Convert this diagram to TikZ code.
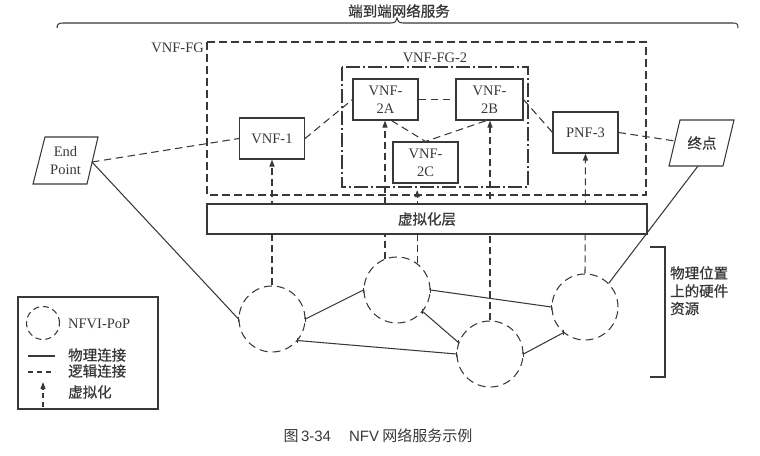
\documentclass[tikz,border=0pt]{standalone}
\usepackage{fontspec}
\setmainfont{Liberation Serif}
\newfontfamily\cjk[FakeBold=0.8]{Noto Sans CJK SC}
\newfontfamily\cjkcap{Noto Sans CJK SC}
\newfontfamily\capsans{Liberation Sans}
\usetikzlibrary{arrows.meta,calc}
\definecolor{ink}{gray}{0.22}
\begin{document}
\begin{tikzpicture}[x=1pt,y=-1pt,
  every node/.style={text=ink, font=\fontsize{14.5}{18}\selectfont, inner sep=0pt},
  line/.style={draw=ink, line width=1.05pt},
  box/.style={line, rectangle, minimum width=65pt, minimum height=41pt, align=center},
  logic/.style={line, dash pattern=on 7.5pt off 4.5pt},
  phys/.style={line},
  pop/.style={line, circle, minimum size=66pt, dash pattern=on 8pt off 5pt},
  virt/.style={line, dash pattern=on 7pt off 4pt, -{Triangle[length=7pt,width=5pt]}},
  fgdash/.style={line, dash pattern=on 8pt off 4pt},
  fgdashdot/.style={line, dash pattern=on 14pt off 3pt on 2pt off 3pt},
]
\useasboundingbox (0,0) rectangle (760,455);

% title and brace
\node (title) at (399,11) {\cjk 端到端网络服务};
\draw[line] (57,28) .. controls (57,24) and (59,23) .. (63,23) -- (391,23)
  .. controls (395,23) and (397,21) .. (397,18)
  .. controls (397,21) and (399,23) .. (403,23) -- (733,23)
  .. controls (737,23) and (738,24) .. (738,28);

% forwarding graph containers
\draw[fgdash] (207,42) rectangle (646,195);
\node[anchor=east] (fglab) at (204,48) {VNF-FG};
\draw[fgdashdot] (342,67) rectangle (528,187);
\node (fg2lab) at (435,58) {VNF-FG-2};

% functions
\node[box] (vnf1) at (272,138.5) {VNF-1};
\node[box] (v2a) at (385.5,99.5) {VNF-\\2A};
\node[box, minimum width=67pt] (v2b) at (489.5,99.5) {VNF-\\2B};
\node[box] (v2c) at (425.5,162.5) {VNF-\\2C};
\node[box] (pnf3) at (585.5,132.5) {PNF-3};

% end points
\draw[line] (45,137) -- (98,137) -- (87,184) -- (33,184) -- cycle;
\node[align=center] (ep) at (65.5,161) {End\\Point};
\coordinate (epR) at (92,162);
\draw[line] (680,120) -- (734,120) -- (723,166) -- (669,166) -- cycle;
\node (zd) at (702,143) {\cjk 终点};
\coordinate (zdL) at (675,141);
\coordinate (zdB) at (698,166);

% NFVI-PoPs
\node[pop] (c1) at (272,319) {};
\node[pop] (c2) at (397,290) {};
\node[pop] (c3) at (490,354) {};
\node[pop] (c4) at (585,307) {};

% virtualisation
\coordinate (tip2c) at (417,190);
\draw[virt] (c1.north) -- (vnf1.south);
\draw[virt] (c2.111) -- (c2.111 |- v2a.south);
\draw[virt] (c2.53) -- (c2.53 |- tip2c);
\draw[virt] (c3.north) -- (c3.north |- v2b.south);
\draw[virt] (c4.north) -- (pnf3.south);

\node[line, fill=white, minimum width=440pt, minimum height=30pt] (vl) at (427,219) {\cjk 虚拟化层};

% logical links
\draw[logic] (epR) -- (vnf1.west);
\draw[logic] (vnf1.east) -- (v2a.west);
\draw[logic] (v2a.east) -- (v2b.west);
\draw[logic] ([xshift=6pt]v2a.south) -- (v2c.north) -- ([xshift=-3pt]v2b.south);
\draw[logic] (v2b.east) -- (pnf3.west);
\draw[logic] (pnf3.east) -- (zdL);

% physical links
\draw[phys] (epR) -- (c1.west);
\draw[phys] (zdB) -- (c4.45);
\draw[phys] (c1.east) -- (c2.west);
\draw[phys] (c1.-40) -- (c3.west);
\draw[phys] (c2.east) -- (c4.west);
\draw[phys] (c2.-40) -- (c3.160);
\draw[phys] (c3.east) -- (c4.-130);
\foreach \p in {c1.west,c1.east,c1.-40,c2.west,c2.east,c2.-40,c3.west,c3.160,c3.east,c4.west,c4.-130}
  \draw[line] ([yshift=-2.5pt]\p) -- ([yshift=2.5pt]\p);

% hardware bracket
\draw[line] (650,247) -- (665,247) -- (665,377) -- (650,377);
\node[anchor=base west] (hw1) at (670,278.5) {\cjk 物理位置};
\node[anchor=base west] (hw2) at (670,296.5) {\cjk 上的硬件};
\node[anchor=base west] (hw3) at (670,314) {\cjk 资源};

% legend
\draw[line] (18,297) rectangle (158,409);
\node[pop, minimum size=33pt, dash pattern=on 6pt off 4pt] (lgc) at (43,323) {};
\node[anchor=west] (lg1) at (68,324) {NFVI-PoP};
\coordinate (ls1) at (28,356); \coordinate (le1) at (55,356);
\draw[phys] (ls1) -- (le1);
\node[anchor=west] (lg2) at (68,355) {\cjk 物理连接};
\coordinate (ls2) at (28,372); \coordinate (le2) at (55,372);
\draw[logic, dash pattern=on 5pt off 4pt] (ls2) -- (le2);
\node[anchor=west] (lg3) at (68,371) {\cjk 逻辑连接};
\coordinate (ls3) at (43,407); \coordinate (le3) at (43,382);
\draw[virt, dash pattern=on 5pt off 4pt] (ls3) -- (le3);
\node[anchor=west] (lg4) at (68,392) {\cjk 虚拟化};

% caption
\node (cap) at (378,436) {\fontsize{15}{18}\selectfont\cjkcap 图\,{\capsans 3-34}\hspace{1.2em}{\capsans NFV} 网络服务示例};
\end{tikzpicture}
\end{document}
